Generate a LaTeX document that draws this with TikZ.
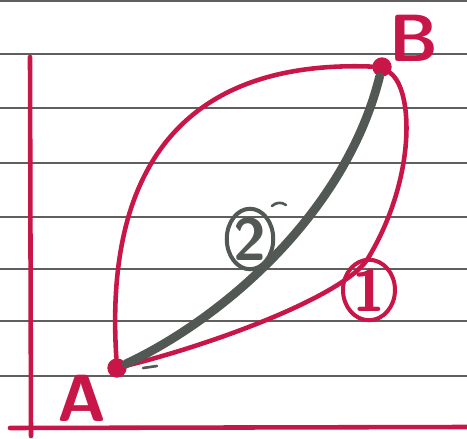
\documentclass[tikz,border=0pt]{standalone}
\usetikzlibrary{positioning,shapes.geometric}
\definecolor{inkred}{RGB}{200,22,72}
\definecolor{inkgray}{RGB}{82,88,84}
\definecolor{ruleline}{RGB}{95,95,95}
\tikzset{
  redpen/.style={inkred, line width=2.6pt, line cap=round},
  graypen/.style={inkgray, line width=5pt, line cap=round},
  rule/.style={ruleline, line width=0.75pt},
  pt/.style={circle, fill=inkred, inner sep=0pt, minimum size=11pt},
  lab/.style={font=\sffamily\bfseries\fontsize{38}{38}\selectfont, text=inkred, inner sep=0pt},
  numlab/.style={font=\sffamily\bfseries\fontsize{34}{34}\selectfont},
  ring/.style={ellipse, line width=2.3pt, inner sep=0pt},
}
\begin{document}
\begin{tikzpicture}[x=0.02cm, y=-0.02cm]
  \useasboundingbox (0,0) rectangle (467,439);
  % lined paper
  \foreach \y in {1,54,108,163,217,269,321,376}
    \draw[rule] (0,\y) -- (467,\y);
  % axes
  \coordinate (ytop) at (30,57);
  \coordinate (ybot) at (31,436);
  \coordinate (xl) at (10,428);
  \coordinate (xr) at (467,427);
  \draw[redpen] (ytop) -- (ybot);
  \draw[redpen] (xl) -- (xr);
  % end points
  \node[pt] (A) at (117,368) {};
  \node[pt] (B) at (382,67) {};
  \node[lab] (Atext) at (82,398) {A};
  \node[lab] (Btext) at (414,38) {B};
  % path 1 and the upper path
  \draw[redpen] (A) .. controls (103,150) and (200,60) .. (B);
  \coordinate (bend1) at (367,260);
  \draw[redpen] (B) .. controls (414,90) and (416,180) .. (bend1)
                    .. controls (340,298) and (210,345) .. (A);
  % path 2
  \draw[graypen] (A) .. controls (220,320) and (345,215) .. (B);
  % labels
  \node[numlab, text=inkred, ring, draw=inkred, minimum width=1.04cm, minimum height=1.1cm] (one) at (369,290) {1};
  \node[numlab, text=inkgray, ring, draw=inkgray, minimum width=0.7cm, minimum height=1.16cm] (two) at (250,239) {2};
  \draw[inkgray, line width=1.5pt, line cap=round] (272,206) to[bend left=40] (286,205);
  \draw[inkgray, line width=1.5pt, line cap=round] (143,368) -- (157,366);
\end{tikzpicture}
\end{document}
